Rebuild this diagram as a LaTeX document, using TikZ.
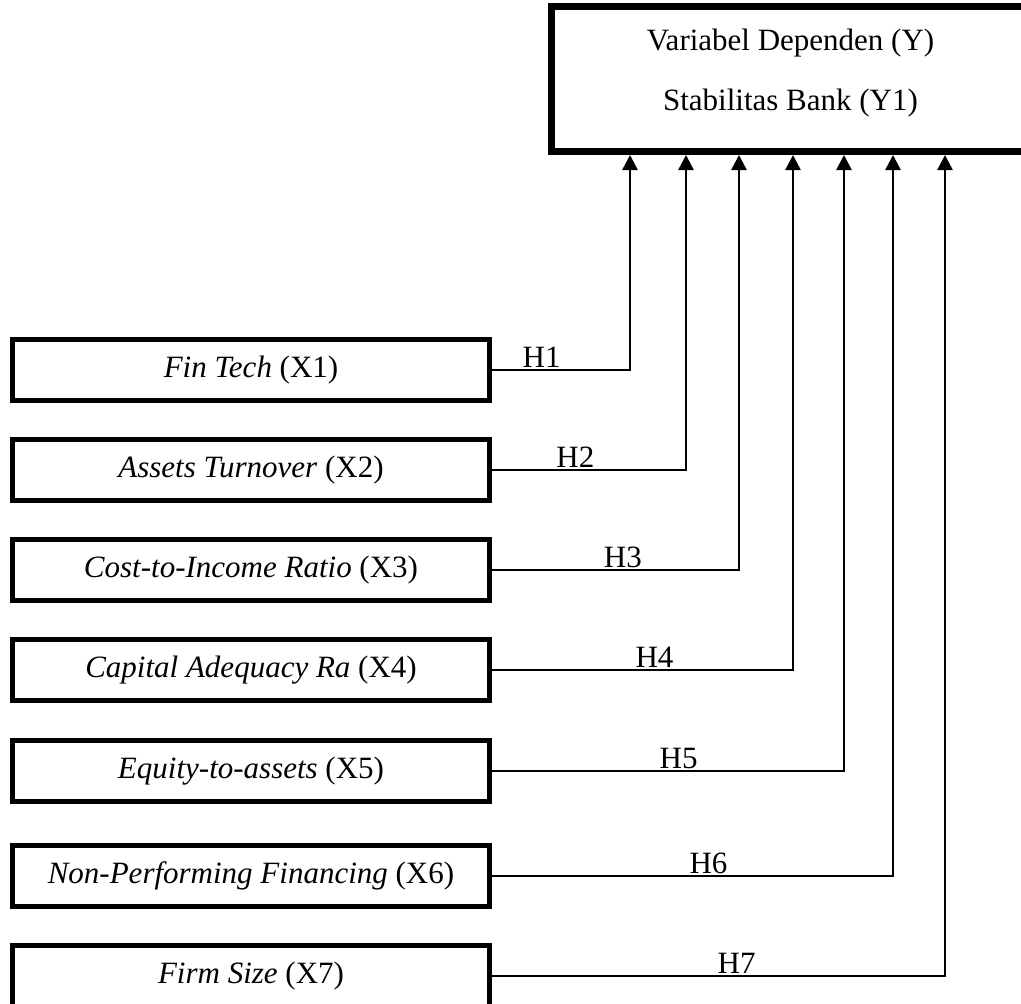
\documentclass[tikz,border=0pt]{standalone}
\usepackage{fontspec}
\setmainfont{Liberation Serif}
\usetikzlibrary{arrows.meta}
\begin{document}
\begin{tikzpicture}[x=1pt,y=-1pt]
\tikzstyle{every node}+=[inner sep=0pt,font=\fontsize{31}{37}\selectfont]
\tikzstyle{varbox}=[draw=black,line width=5pt,minimum width=477pt,minimum height=61pt]
\tikzstyle{hline}=[black,line width=2.5pt,-{Triangle[length=15pt,width=15pt]}]
\tikzstyle{hlabel}=[above=1pt]
\useasboundingbox (0,0) rectangle (1021,1004);
\node [draw=black,line width=7pt,minimum width=478pt,minimum height=145pt,align=center,text depth=19pt,font=\fontsize{31}{60}\selectfont] (y) at (790.5,79) {Variabel Dependen (Y)\\Stabilitas Bank (Y1)};
\node [varbox] (x1) at (251,370) {\textit{Fin Tech} (X1)};
\node [varbox] (x2) at (251,470) {\textit{Assets Turnover} (X2)};
\node [varbox] (x3) at (251,570) {\textit{Cost-to-Income Ratio} (X3)};
\node [varbox] (x4) at (251,670) {\textit{Capital Adequacy Ra} (X4)};
\node [varbox] (x5) at (251,771) {\textit{Equity-to-assets} (X5)};
\node [varbox] (x6) at (251,876) {\textit{Non-Performing Financing} (X6)};
\node [varbox] (x7) at (251,976) {\textit{Firm Size} (X7)};
\coordinate (t1) at (630,0);
\coordinate (t2) at (686,0);
\coordinate (t3) at (739,0);
\coordinate (t4) at (793,0);
\coordinate (t5) at (844,0);
\coordinate (t6) at (893,0);
\coordinate (t7) at (945,0);
\draw [hline] (x1.east) -- node[hlabel,pos=0.36]{H1} (x1.east -| t1) -- (t1 |- y.south);
\draw [hline] (x2.east) -- node[hlabel,pos=0.43]{H2} (x2.east -| t2) -- (t2 |- y.south);
\draw [hline] (x3.east) -- node[hlabel,pos=0.53]{H3} (x3.east -| t3) -- (t3 |- y.south);
\draw [hline] (x4.east) -- node[hlabel,pos=0.54]{H4} (x4.east -| t4) -- (t4 |- y.south);
\draw [hline] (x5.east) -- node[hlabel,pos=0.53]{H5} (x5.east -| t5) -- (t5 |- y.south);
\draw [hline] (x6.east) -- node[hlabel,pos=0.54]{H6} (x6.east -| t6) -- (t6 |- y.south);
\draw [hline] (x7.east) -- node[hlabel,pos=0.54]{H7} (x7.east -| t7) -- (t7 |- y.south);
\end{tikzpicture}
\end{document}
